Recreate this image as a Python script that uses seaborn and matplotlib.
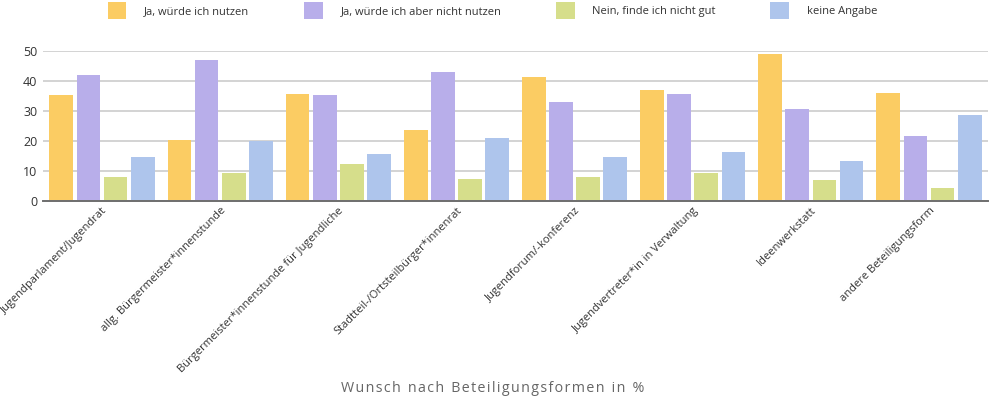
import numpy as np
import pandas as pd
import matplotlib
matplotlib.use("Agg")
import matplotlib.pyplot as plt
from matplotlib.patches import Patch
import seaborn as sns

# Werte (in %)
categories = [
    "Jugendparlament/Jugendrat",
    "allg. Bürgermeister*innenstunde",
    "Bürgermeister*innenstunde für Jugendliche",
    "Stadtteil-/Ortsteilbürger*innenrat",
    "Jugendforum/-konferenz",
    "Jugendvertreter*in in Verwaltung",
    "Ideenwerkstatt",
    "andere Beteiligungsform",
]
series_names = [
    "Ja, würde ich nutzen",
    "Ja, würde ich aber nicht nutzen",
    "Nein, finde ich nicht gut",
    "keine Angabe",
]
ja_nutzen = [35.2, 20.2, 35.6, 23.8, 41.3, 37.0, 48.9, 36.1]
ja_nicht_nutzen = [41.9, 47.1, 35.2, 42.9, 33.0, 35.8, 30.8, 21.7]
nein = [8.1, 9.4, 12.2, 7.4, 8.1, 9.4, 6.9, 4.4]
keine_angabe = [14.6, 19.9, 15.6, 21.0, 14.6, 16.4, 13.3, 28.6]
colors = ["#FBCC63", "#B8AEEA", "#D6DE8B", "#AEC5EC"]

df = pd.DataFrame({
    "Form": categories * 4,
    "Antwort": np.repeat(series_names, len(categories)),
    "Wert": ja_nutzen + ja_nicht_nutzen + nein + keine_angabe,
})

sns.set_style("white")
plt.rcParams["font.family"] = ["Open Sans", "DejaVu Sans"]

fig = plt.figure(figsize=(9.93, 3.99), dpi=100)
ax = fig.add_axes([43 / 993, 1 - 201 / 399, 945 / 993, 150 / 399])

sns.barplot(data=df, x="Form", y="Wert", hue="Antwort", palette=colors,
            saturation=1, width=0.92, gap=0.13, linewidth=0, edgecolor="none",
            ax=ax, legend=False, zorder=3)

ax.set_ylim(0, 50)
ax.set_yticks([0, 10, 20, 30, 40, 50])
ax.yaxis.grid(True, color="#CCCCCC", linewidth=1.2, zorder=0)
ax.set_axisbelow(True)
for side in ["left", "right", "top"]:
    ax.spines[side].set_visible(False)
ax.spines["bottom"].set_color("#6E6E6E")
ax.spines["bottom"].set_linewidth(1.4)
ax.spines["bottom"].set_zorder(4)
ax.tick_params(axis="y", length=0, pad=4, labelsize=9, labelcolor="#333333")
ax.tick_params(axis="x", length=0, pad=3, labelsize=8, labelcolor="#333333")
ax.set_xlabel("")
ax.set_ylabel("")
plt.setp(ax.get_xticklabels(), rotation=45, ha="right", rotation_mode="anchor")
ax.set_xlim(-0.5, len(categories) - 0.5)

title = "Wunsch nach Beteiligungsformen in %"
spaced = "\u200a".join(title).replace("\u200a \u200a", "\u2002")
fig.text(0.4965, 1 - 388 / 399, spaced, ha="center", va="center",
         fontsize=10.3, color="#666666")

handles = [Patch(facecolor=c, edgecolor="none") for c in colors]
fig.legend(handles, series_names, loc="upper center", bbox_to_anchor=(0.496, 1.012),
           ncol=4, frameon=False, fontsize=8, handlelength=1.7, handleheight=2.0,
           handletextpad=1.6, columnspacing=4.9, borderpad=0.1, labelcolor="#333333")

fig.savefig("out.png", dpi=100)
